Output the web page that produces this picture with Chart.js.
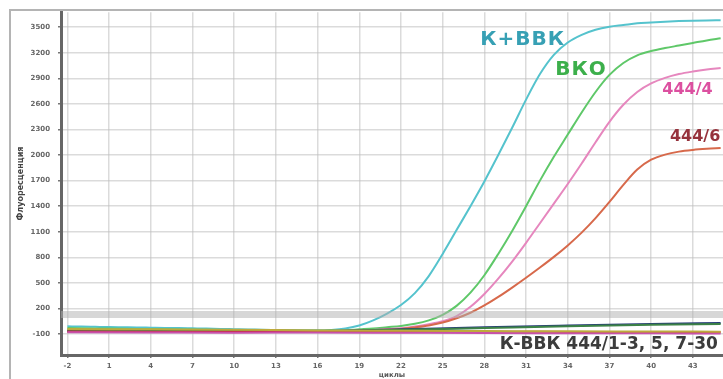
<!DOCTYPE html>
<html>
<head>
<meta charset="utf-8">
<script src="https://cdn.jsdelivr.net/npm/chart.js@4.4.0/dist/chart.umd.min.js"></script>
<style>
  html, body { margin: 0; padding: 0; background: #fff; }
</style>
</head>
<body>
<canvas id="pcr-chart" width="723" height="379"></canvas>
<script>
// --- données ---
const cycles = [-2,-1,0,1,2,3,4,5,6,7,8,9,10,11,12,13,14,15,16,17,18,19,20,21,22,23,24,25,26,27,28,29,30,31,32,33,34,35,36,37,38,39,40,41,42,43,44,45];

const kPlusBbk = [-10,-12,-15,-18,-20,-22,-25,-28,-30,-33,-36,-40,-43,-46,-50,-53,-56,-58,-58,-52,-35,0,60,140,240,380,580,840,1120,1400,1690,2000,2320,2650,2950,3175,3320,3410,3470,3505,3525,3545,3555,3565,3572,3577,3580,3582];
const bko = [-30,-32,-34,-36,-38,-40,-42,-44,-46,-48,-50,-52,-54,-56,-58,-60,-61,-62,-62,-60,-55,-45,-35,-20,-5,20,60,125,230,385,590,840,1110,1400,1700,1980,2240,2500,2740,2940,3080,3170,3220,3255,3285,3315,3345,3370];
const s444_4 = [-60,-61,-62,-62,-63,-63,-64,-64,-65,-65,-66,-66,-67,-67,-68,-68,-68,-67,-66,-64,-61,-58,-53,-45,-32,-12,15,50,110,220,370,550,750,970,1200,1430,1660,1900,2150,2390,2590,2740,2840,2905,2950,2980,3003,3020];
const s444_6 = [-72,-73,-73,-74,-74,-75,-75,-75,-76,-76,-76,-76,-75,-75,-74,-73,-72,-70,-68,-66,-63,-60,-55,-48,-40,-22,0,35,85,150,235,335,445,560,680,805,940,1090,1260,1450,1650,1830,1945,2005,2040,2060,2073,2082];

// échantillons négatifs (К-ВВК 444/1-3, 5, 7-30)
const negCycles = [-2, 4, 10, 16, 22, 28, 34, 40, 45];
const negBlue = [-65,-68,-70,-68,-45,-20,0,18,30];
const negGreen = [-55,-60,-62,-62,-50,-30,-10,8,18];
const negCrimson = [-70,-72,-74,-72,-70,-72,-75,-78,-80];
const negMagenta = [-80,-82,-84,-82,-85,-88,-90,-92,-94];
const negOlive = [-40,-45,-50,-58,-62,-65,-68,-70,-72];

const thresholdValue = 130;

const xTicks = [-2,1,4,7,10,13,16,19,22,25,28,31,34,37,40,43];
const yTicks = [-100,200,500,800,1100,1400,1700,2000,2300,2600,2900,3200,3500];

// --- construction ---
function pts(xs, ys) { return xs.map((x, i) => ({ x: x, y: ys[i] })); }

function curve(label, xs, ys, color, width) {
    return {
        label: label,
        data: pts(xs, ys),
        borderColor: color,
        borderWidth: width,
        pointRadius: 0,
        cubicInterpolationMode: 'monotone',
        fill: false
    };
}

const X_MIN = -2.46, X_MAX = 45.17, Y_MIN = -346, Y_MAX = 3676;

const datasets = [
    {
        label: 'seuil',
        data: [{ x: X_MIN, y: thresholdValue }, { x: X_MAX, y: thresholdValue }],
        borderColor: 'rgba(175,175,175,0.5)',
        borderWidth: 7,
        pointRadius: 0
    },
    curve('neg-olive', negCycles, negOlive, 'rgb(190,170,60)', 2),
    curve('neg-magenta', negCycles, negMagenta, 'rgb(200,80,170)', 2),
    curve('neg-crimson', negCycles, negCrimson, 'rgb(200,40,60)', 2),
    curve('neg-green', negCycles, negGreen, 'rgb(60,130,70)', 2),
    curve('neg-blue', negCycles, negBlue, 'rgb(40,60,120)', 2),
    curve('444/6', cycles, s444_6, 'rgb(215,105,75)', 2),
    curve('444/4', cycles, s444_4, 'rgb(230,135,190)', 2),
    curve('ВКО', cycles, bko, 'rgb(95,200,105)', 2),
    curve('К+ВВК', cycles, kPlusBbk, 'rgb(85,195,205)', 2)
];

// étiquettes placées en coordonnées de données
const curveLabels = [
    { text: 'К+ВВК', x: 27.7, y: 3347, color: 'rgb(55,160,180)', size: 20, spacing: 1 },
    { text: 'ВКО', x: 33.1, y: 2996, color: 'rgb(60,175,75)', size: 20, spacing: 1 },
    { text: '444/4', x: 40.8, y: 2761, color: 'rgb(220,80,160)', size: 16, spacing: 0 },
    { text: '444/6', x: 41.35, y: 2210, color: 'rgb(150,50,60)', size: 16, spacing: 0 },
    { text: 'К-ВВК 444/1-3, 5, 7-30', x: 29.1, y: -229, color: 'rgb(60,60,60)', size: 17, spacing: 0 }
];

const framePlugin = {
    id: 'frame',
    beforeDraw(chart) {
        const ctx = chart.ctx;
        ctx.save();
        ctx.fillStyle = '#fff';
        ctx.fillRect(0, 0, chart.width, chart.height);
        ctx.strokeStyle = '#b4b4b4';
        ctx.lineWidth = 2;
        ctx.beginPath();
        ctx.moveTo(10, chart.height);
        ctx.lineTo(10, 10);
        ctx.lineTo(chart.width, 10);
        ctx.stroke();
        ctx.restore();
    }
};

const labelPlugin = {
    id: 'curveLabels',
    afterDatasetsDraw(chart) {
        const ctx = chart.ctx;
        const xs = chart.scales.x, ys = chart.scales.y;
        ctx.save();
        ctx.textBaseline = 'middle';
        ctx.textAlign = 'left';
        curveLabels.forEach(l => {
            ctx.font = 'bold ' + l.size + 'px "DejaVu Sans"';
            ctx.letterSpacing = l.spacing + 'px';
            ctx.fillStyle = l.color;
            ctx.fillText(l.text, xs.getPixelForValue(l.x), ys.getPixelForValue(l.y));
        });
        ctx.restore();
    }
};

const tickFont = { family: 'DejaVu Sans', size: 7, weight: 'bold' };
const plain = v => String(v);

new Chart(document.getElementById('pcr-chart').getContext('2d'), {
    type: 'line',
    data: { datasets: datasets },
    options: {
        responsive: false,
        animation: false,
        devicePixelRatio: 1,
        layout: { padding: { left: 10, top: 12, right: 0, bottom: 0 } },
        plugins: { legend: { display: false }, tooltip: { enabled: false } },
        scales: {
            x: {
                type: 'linear',
                min: X_MIN,
                max: X_MAX,
                afterBuildTicks: s => { s.ticks = xTicks.map(v => ({ value: v })); },
                afterFit: s => { s.height = 24; },
                ticks: { font: tickFont, color: '#666', padding: 4, maxRotation: 0, callback: plain },
                grid: { color: 'rgba(190,190,190,0.55)', lineWidth: 1.5, tickLength: 3, tickColor: '#777' },
                border: { color: '#666', width: 3 },
                title: { display: true, text: 'циклы', font: { family: 'DejaVu Sans', size: 7, weight: 'bold' }, color: '#555', padding: 0 }
            },
            y: {
                type: 'linear',
                min: Y_MIN,
                max: Y_MAX,
                afterBuildTicks: s => { s.ticks = yTicks.map(v => ({ value: v })); },
                afterFit: s => { s.width = 51; },
                ticks: { font: tickFont, color: '#666', padding: 8, callback: plain },
                grid: { color: 'rgba(190,190,190,0.55)', lineWidth: 1.5, tickLength: 3, tickColor: '#777' },
                border: { color: '#666', width: 3 },
                title: { display: true, text: 'Флуоресценция', font: { family: 'DejaVu Sans', size: 8, weight: 'bold' }, color: '#444', padding: { top: 6, bottom: 0 } }
            }
        }
    },
    plugins: [framePlugin, labelPlugin]
});
</script>
</body>
</html>
